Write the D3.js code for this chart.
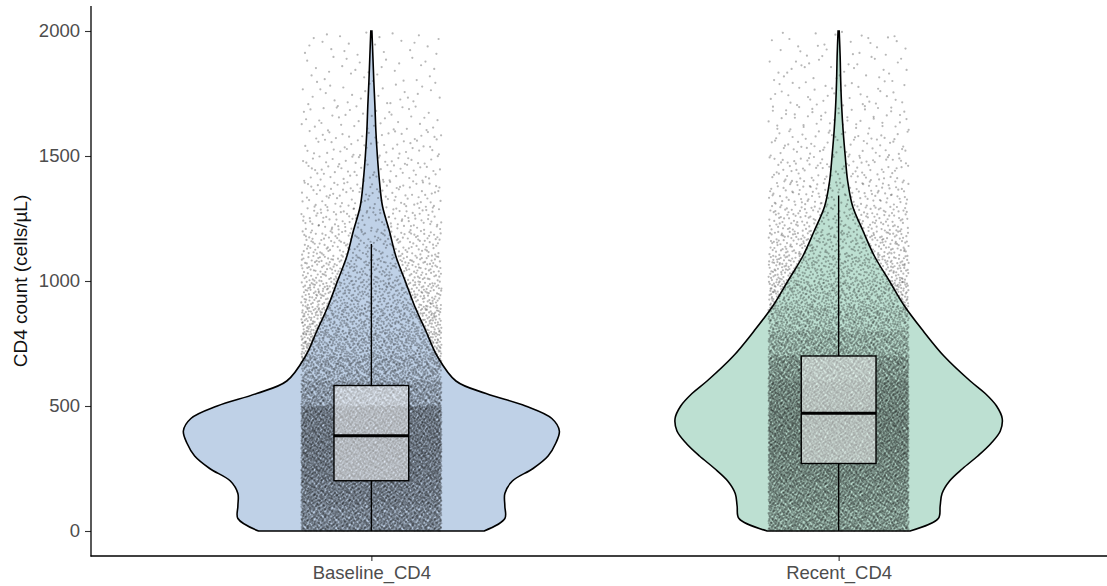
<!DOCTYPE html>
<html>
<head>
<meta charset="utf-8">
<script src="https://cdn.jsdelivr.net/npm/d3@7"></script>
<style>
  html, body { margin: 0; padding: 0; background: #fff; }
  svg { display: block; font-family: "Liberation Sans", Arial, sans-serif; }
</style>
</head>
<body>
<svg width="1107" height="586"></svg>
<script>
// 그룹 이름
const groups = ["Baseline_CD4", "Recent_CD4"];
const yTicks = [0, 500, 1000, 1500, 2000];

// 바이올린 밀도 (상대값, 값 위치별)
const densityAt = [0, 50, 100, 150, 200, 250, 300, 350, 400, 450, 500, 550, 600, 700, 800, 900, 1000, 1100, 1200, 1300, 1400, 1500, 1600, 1700, 1800, 1900, 2000];
const baselineDensity = [0.60, 0.71, 0.71, 0.71, 0.75, 0.86, 0.94, 0.98, 1.00, 0.96, 0.82, 0.61, 0.45, 0.35, 0.29, 0.23, 0.18, 0.13, 0.096, 0.059, 0.043, 0.032, 0.024, 0.019, 0.013, 0.008, 0.003];
const recentDensity = [0.38, 0.53, 0.54, 0.55, 0.59, 0.66, 0.74, 0.81, 0.86, 0.87, 0.84, 0.78, 0.70, 0.56, 0.45, 0.35, 0.27, 0.19, 0.13, 0.074, 0.048, 0.035, 0.024, 0.016, 0.011, 0.008, 0.003];

// 박스플롯 요약값 [하단수염, Q1, 중앙값, Q3, 상단수염]
const baselineBox = [0, 201, 381, 582, 1148];
const recentBox = [0, 270, 471, 700, 1342];

// 지터 점 개수 (100 단위 구간별, 0~2000)
const binStart = d3.range(0, 2000, 100);
const baselineCounts = [1600, 1800, 1900, 1950, 1900, 1100, 750, 560, 430, 320, 240, 170, 120, 90, 70, 55, 40, 30, 25, 22];
const recentCounts = [1400, 1550, 1700, 1800, 1850, 1750, 1450, 950, 650, 460, 330, 240, 170, 120, 90, 65, 50, 38, 30, 25];

const fills = ["#bfd1e7", "#bde0d2"];

const svg = d3.select("svg");
const margin = { top: 6, right: 0, bottom: 30, left: 91 };
const width = 1107, height = 586;

const x = d3.scalePoint().domain(groups).range([91, 1119]).padding(0.6);
const y = d3.scaleLinear().domain([-100, 2100]).range([556, 6]);
const w = d3.scaleLinear().domain([0, 1]).range([0, 188]); // 바이올린 반폭
const unit = x.step(); // 이산축 1단위 픽셀

// 할턴 수열 (지터 위치용, 결정적)
function halton(i, b) {
  let f = 1, r = 0;
  while (i > 0) { f /= b; r += f * (i % b); i = Math.floor(i / b); }
  return r;
}

const series = [
  { name: groups[0], dens: baselineDensity, box: baselineBox, counts: baselineCounts, fill: fills[0] },
  { name: groups[1], dens: recentDensity, box: recentBox, counts: recentCounts, fill: fills[1] }
];

const plot = svg.append("g");

series.forEach((s, si) => {
  const cx = x(s.name);
  const g = plot.append("g");

  // 바이올린
  const area = d3.area()
    .y((d, i) => y(densityAt[i]))
    .x0((d) => cx - w(d))
    .x1((d) => cx + w(d))
    .curve(d3.curveCatmullRom.alpha(0.5));
  g.append("path")
    .datum(s.dens)
    .attr("d", area)
    .attr("fill", s.fill)
    .attr("stroke", "#000")
    .attr("stroke-width", 1.6);

  // 지터 점
  const pts = [];
  let k = 1 + si * 7919;
  s.counts.forEach((c, bi) => {
    for (let j = 0; j < c; j++, k++) {
      pts.push({
        dx: (halton(k, 2) - 0.5) * 0.3 * unit,
        v: binStart[bi] + halton(k, 3) * 100
      });
    }
  });
  g.append("g")
    .selectAll("circle")
    .data(pts)
    .join("circle")
    .attr("cx", (d) => cx + d.dx)
    .attr("cy", (d) => y(d.v))
    .attr("r", 1.1)
    .attr("fill", "#111")
    .attr("fill-opacity", 0.3);

  // 박스플롯
  const [lo, q1, med, q3, hi] = s.box;
  const bw = 0.16 * unit;
  g.append("line")
    .attr("x1", cx).attr("x2", cx)
    .attr("y1", y(q3)).attr("y2", y(hi))
    .attr("stroke", "#000").attr("stroke-width", 1.4);
  g.append("line")
    .attr("x1", cx).attr("x2", cx)
    .attr("y1", y(lo)).attr("y2", y(q1))
    .attr("stroke", "#000").attr("stroke-width", 1.4);
  g.append("rect")
    .attr("x", cx - bw / 2)
    .attr("y", y(q3))
    .attr("width", bw)
    .attr("height", y(q1) - y(q3))
    .attr("fill", "#fff")
    .attr("fill-opacity", 0.5)
    .attr("stroke", "#000")
    .attr("stroke-width", 1.4);
  g.append("line")
    .attr("x1", cx - bw / 2).attr("x2", cx + bw / 2)
    .attr("y1", y(med)).attr("y2", y(med))
    .attr("stroke", "#000").attr("stroke-width", 3.2);
});

// 축
const yAxis = svg.append("g")
  .attr("transform", `translate(${margin.left},0)`)
  .call(d3.axisLeft(y).tickValues(yTicks).tickFormat(d3.format("d")).tickSize(6).tickPadding(5));
const xAxis = svg.append("g")
  .attr("transform", `translate(0,556)`)
  .call(d3.axisBottom(x).tickSize(5).tickPadding(5));

[yAxis, xAxis].forEach((a) => {
  a.select(".domain").remove();
  a.selectAll(".tick line").attr("stroke", "#333").attr("stroke-width", 1.1);
  a.selectAll(".tick text")
    .attr("fill", "#4d4d4d")
    .style("font-size", "18.5px")
    .style("font-family", "Liberation Sans, Arial, sans-serif");
});

// 축 선
svg.append("line")
  .attr("x1", margin.left).attr("x2", margin.left)
  .attr("y1", 6).attr("y2", 556.5)
  .attr("stroke", "#000").attr("stroke-width", 1.3);
svg.append("line")
  .attr("x1", margin.left - 0.5).attr("x2", width)
  .attr("y1", 556).attr("y2", 556)
  .attr("stroke", "#000").attr("stroke-width", 1.3);

// y축 제목
svg.append("text")
  .attr("transform", `translate(22,${y(1000)}) rotate(-90)`)
  .attr("text-anchor", "middle")
  .attr("dominant-baseline", "middle")
  .style("font-size", "19px")
  .attr("fill", "#111")
  .text("CD4 count (cells/µL)");
</script>
</body>
</html>
